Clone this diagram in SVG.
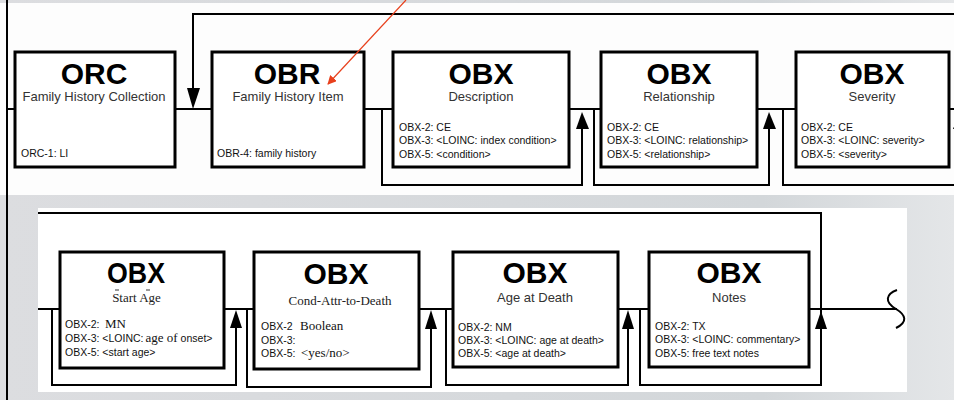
<svg xmlns="http://www.w3.org/2000/svg" width="954" height="400" viewBox="0 0 954 400">
<style>
.box{fill:#ffffff;stroke:#000;stroke-width:3}
.ln{fill:none;stroke:#000;stroke-width:2}
.ah{fill:#000;stroke:none}
.big{font-family:"Liberation Sans",Arial,sans-serif;font-weight:bold;font-size:30px;fill:#000;text-anchor:middle}
.sub{font-family:"Liberation Sans",Arial,sans-serif;font-size:13px;fill:#333;text-anchor:middle}
.subs{font-family:"Liberation Serif","Times New Roman",serif;font-size:13px;fill:#222;text-anchor:middle}
.sm{font-family:"Liberation Sans",Arial,sans-serif;font-size:10.5px;fill:#111}
.sr{font-family:"Liberation Serif","Times New Roman",serif;font-size:13px;fill:#111}
</style>
<defs>
<linearGradient id="bg" x1="0" y1="0" x2="1" y2="0">
<stop offset="0" stop-color="#dcdde0"/>
<stop offset="0.8" stop-color="#d3d7da"/>
<stop offset="1" stop-color="#e4e6e8"/>
</linearGradient>
<marker id="red" viewBox="0 0 10 10" refX="9" refY="5" markerWidth="9" markerHeight="9" markerUnits="userSpaceOnUse" orient="auto">
<path d="M0,0 L10,5 L0,10 z" fill="#e8401c"/>
</marker>
</defs>
<!-- backgrounds -->
<rect x="0" y="0" width="954" height="400" fill="url(#bg)"/>
<rect x="0" y="3" width="954" height="192" fill="#fdfdfd"/>
<rect x="38" y="208" width="869" height="184" fill="#ffffff"/>

<g id="connectors">
<!-- left border line -->
<line class="ln" x1="7" y1="0" x2="7" y2="400" stroke-width="2.5"/>
<!-- top row main line -->
<line class="ln" x1="7" y1="109" x2="15" y2="109"/>
<line class="ln" x1="175" y1="109" x2="212" y2="109"/>
<line class="ln" x1="364" y1="109" x2="393" y2="109"/>
<line class="ln" x1="569" y1="109" x2="601" y2="109"/>
<line class="ln" x1="757" y1="109" x2="796" y2="109"/>
<line class="ln" x1="949" y1="109" x2="954" y2="109"/>
<!-- top feedback loop -->
<polyline class="ln" points="954,14 193,14 193,92"/>
<polygon class="ah" points="187,88 200,88 193,109"/>
<!-- loops -->
<polyline class="ln" points="382,109 382,185 582,185 582,126"/>
<polygon class="ah" points="582,112 576,129 589,129"/>
<polyline class="ln" points="594,109 594,185 769,185 769,126"/>
<polygon class="ah" points="769,112 763,129 776,129"/>
<polyline class="ln" points="783,109 783,185 954,185"/>
<polygon class="ah" points="960,112 953,129 967,129"/>

<!-- bottom row -->
<polyline class="ln" points="38,213 821,213 821,326"/>
<line class="ln" x1="38" y1="309" x2="60" y2="309"/>
<line class="ln" x1="224" y1="309" x2="254" y2="309"/>
<line class="ln" x1="419" y1="309" x2="453" y2="309"/>
<line class="ln" x1="618" y1="309" x2="649" y2="309"/>
<line class="ln" x1="809" y1="309" x2="897" y2="309"/>
<path class="ln" d="M897,290 C886,294 884,302 896,309 C906,315 908,322 896,328"/>
<polyline class="ln" points="52,309 52,385 236,385 236,326"/>
<polygon class="ah" points="236,310 230,328 242,328"/>
<polyline class="ln" points="247,309 247,387 431,387 431,326"/>
<polygon class="ah" points="431,310 425,329 437,329"/>
<polyline class="ln" points="446,309 446,385 628,385 628,326"/>
<polygon class="ah" points="628,310 622,329 634,329"/>
<polyline class="ln" points="640,309 640,385 821,385 821,326"/>
<polygon class="ah" points="821,311 815,329 827,329"/>
</g>

<g id="orc">
<rect class="box" x="15" y="52" width="160" height="115"/>
<text class="big" x="94" y="84">ORC</text>
<text class="sub" x="94" y="101">Family History Collection</text>
<text class="sm" x="21" y="157">ORC-1: LI</text>
</g>
<g id="obr">
<rect class="box" x="212" y="52" width="152" height="115"/>
<text class="big" x="287" y="84">OBR</text>
<text class="sub" x="288" y="101">Family History Item</text>
<text class="sm" x="217" y="157">OBR-4: family history</text>
</g>
<g id="obx-description">
<rect class="box" x="393" y="52" width="176" height="115"/>
<text class="big" x="481" y="84">OBX</text>
<text class="sub" x="481" y="101">Description</text>
<text class="sm" x="399" y="131">OBX-2: CE</text>
<text class="sm" x="399" y="144">OBX-3: &lt;LOINC: index condition&gt;</text>
<text class="sm" x="399" y="157.5">OBX-5: &lt;condition&gt;</text>
</g>
<g id="obx-relationship">
<rect class="box" x="601" y="52" width="156" height="115"/>
<text class="big" x="679" y="84">OBX</text>
<text class="sub" x="679" y="101">Relationship</text>
<text class="sm" x="607" y="131">OBX-2: CE</text>
<text class="sm" x="607" y="144">OBX-3: &lt;LOINC: relationship&gt;</text>
<text class="sm" x="607" y="157.5">OBX-5: &lt;relationship&gt;</text>
</g>
<g id="obx-severity">
<rect class="box" x="796" y="52" width="153" height="115"/>
<text class="big" x="872" y="84">OBX</text>
<text class="sub" x="872" y="101">Severity</text>
<text class="sm" x="801" y="131">OBX-2: CE</text>
<text class="sm" x="801" y="144">OBX-3: &lt;LOINC: severity&gt;</text>
<text class="sm" x="801" y="157.5">OBX-5: &lt;severity&gt;</text>
</g>

<g id="obx-start-age">
<rect class="box" x="60" y="252" width="164" height="116"/>
<text class="big" x="136" y="283" textLength="58" lengthAdjust="spacingAndGlyphs">OBX</text>
<text class="subs" x="136.5" y="302" font-size="12">Start Age</text>
<line x1="115" y1="290" x2="119" y2="290" stroke="#333" stroke-width="1"/>
<line x1="146" y1="290" x2="150" y2="290" stroke="#333" stroke-width="1"/>
<text class="sm" x="65" y="328">OBX-2:</text>
<text class="sr" x="105" y="328">MN</text>
<text class="sm" x="65" y="342">OBX-3: &lt;LOINC:<tspan class="sr" font-size="13" dx="2">age of</tspan><tspan dx="3">onset&gt;</tspan></text>
<text class="sm" x="65" y="356">OBX-5: &lt;start  age&gt;</text>
</g>
<g id="obx-cond-attr">
<rect class="box" x="254" y="252" width="165" height="117"/>
<text class="big" x="336" y="284">OBX</text>
<text class="subs" x="340" y="305">Cond-Attr-to-Death</text>
<text class="sm" x="261" y="330">OBX-2</text>
<text class="sr" x="300" y="330">Boolean</text>
<text class="sm" x="261" y="344">OBX-3:</text>
<text class="sm" x="261" y="357">OBX-5:</text>
<text class="sr" x="301" y="357">&lt;yes/no&gt;</text>
</g>
<g id="obx-age-at-death">
<rect class="box" x="453" y="252" width="165" height="115"/>
<text class="big" x="535" y="283">OBX</text>
<text class="sub" x="535" y="302">Age at Death</text>
<text class="sm" x="458" y="331">OBX-2: NM</text>
<text class="sm" x="458" y="344">OBX-3: &lt;LOINC: age at death&gt;</text>
<text class="sm" x="458" y="357">OBX-5: &lt;age at death&gt;</text>
</g>
<g id="obx-notes">
<rect class="box" x="649" y="252" width="160" height="115"/>
<text class="big" x="729" y="283">OBX</text>
<text class="sub" x="729" y="302">Notes</text>
<text class="sm" x="655" y="330">OBX-2: TX</text>
<text class="sm" x="655" y="343">OBX-3: &lt;LOINC: commentary&gt;</text>
<text class="sm" x="655" y="357">OBX-5: free text notes</text>
</g>

<g id="pointer">
<line x1="406" y1="0" x2="328" y2="84" stroke="#e8401c" stroke-width="1.2" marker-end="url(#red)"/>
</g>
</svg>
